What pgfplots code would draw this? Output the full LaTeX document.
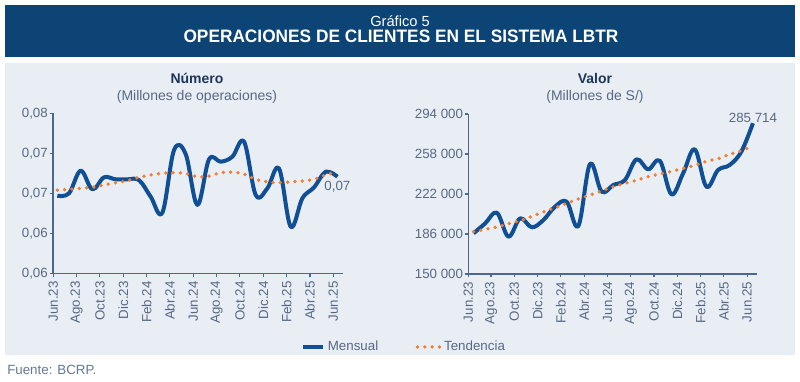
\documentclass[border=0pt]{standalone}
\usepackage{pgfplots}
\pgfplotsset{compat=1.18}
\usepackage{fontspec}
\setmainfont{Liberation Sans}
\newfontfamily\titlefont[FakeStretch=0.96]{Liberation Sans}
\definecolor{hdr}{RGB}{12,68,117}
\definecolor{panel}{RGB}{233,238,245}
\definecolor{mens}{RGB}{17,79,149}
\definecolor{trend}{RGB}{243,125,48}
\definecolor{axisc}{RGB}{74,104,145}
\definecolor{ticktxt}{RGB}{88,104,132}
\definecolor{ttl}{RGB}{30,52,90}
\definecolor{src}{RGB}{100,120,150}
\pgfplotsset{
  panelaxis/.style={
    scale only axis, anchor=south west, clip=false,
    enlargelimits=false, scaled y ticks=false, scaled x ticks=false,
    axis x line*=bottom, axis y line*=left,
    tick align=outside, major tick length=2.5pt,
    axis line style={draw=axisc, line width=0.8pt},
    every tick/.style={draw=axisc, line width=0.8pt},
    ticklabel style={font=\fontsize{10}{12}\selectfont, text=ticktxt},
    x tick label style={rotate=90, anchor=east},
    y tick label style={inner xsep=1.2pt},
    xticklabels={Jun.23,Ago.23,Oct.23,Dic.23,Feb.24,Abr.24,Jun.24,Ago.24,Oct.24,Dic.24,Feb.25,Abr.25,Jun.25},
  },
  mensstyle/.style={draw=mens, line width=3pt, smooth, tension=0.6, line join=round},
  trendstyle/.style={draw=trend, line width=2.8pt, line cap=round, dash pattern=on 0pt off 5.5pt, smooth, tension=0.6},
}
\begin{document}
\begin{tikzpicture}
\useasboundingbox (0pt,0pt) rectangle (600pt,286.5pt);
\begin{scope}[x=0.75pt,y=0.75pt]
  \fill[white] (0,0) rectangle (800,382);
  \fill[hdr] (5,325) rectangle (795,377);
  \node[anchor=base, text=white, font=\fontsize{11}{12}\selectfont] at (400,355.3) {Gráfico 5};
  \node[anchor=base, text=white, font=\titlefont\bfseries\fontsize{13.5}{15}\selectfont] at (401,339.3) {OPERACIONES DE CLIENTES EN EL SISTEMA LBTR};
  \fill[panel] (5,27) rectangle (795,319);
  \node[anchor=base, text=ttl, font=\bfseries\fontsize{10.5}{12}\selectfont] at (197,298.7) {Número};
  \node[anchor=base, text=ticktxt, font=\fontsize{10.5}{12}\selectfont] at (197,281) {(Millones de operaciones)};
  \node[anchor=base, text=ttl, font=\bfseries\fontsize{10.5}{12}\selectfont] at (595,298.7) {Valor};
  \node[anchor=base, text=ticktxt, font=\fontsize{10.5}{12}\selectfont] at (595,281) {(Millones de S/)};
  \node[anchor=base west, inner sep=0pt, text=src, font=\fontsize{10}{12}\selectfont] at (7,7) {Fuente: BCRP.};
\end{scope}

\begin{axis}[panelaxis,
  at={(39.75pt,81.5pt)}, width=217.5pt, height=120pt,
  xmin=-0.37, xmax=24.48, ymin=0.0575, ymax=0.0775,
  xtick={-0.35,1.65,3.65,5.65,7.65,9.65,11.65,13.65,15.65,17.65,19.65,21.65,23.65},
  ytick={0.0575,0.0625,0.0675,0.0725,0.0775},
  yticklabels={{0,06},{0,06},{0,07},{0,07},{0,08}},
  legend cell align=left,
  legend style={at={(0.855,-0.46)}, anchor=west, draw=none, fill=none, inner sep=0pt,
    legend columns=2, font=\fontsize{10}{12}\selectfont, text=ticktxt,
    nodes={inner xsep=2pt},
    /tikz/every even column/.append style={column sep=26pt}},
]
\addplot[mensstyle, legend image code/.code={\draw[mens, line width=3pt] (0pt,0pt) -- (15pt,0pt);}] coordinates {
(0,0.06720) (1,0.06750) (2,0.07033) (3,0.06800) (4,0.06950) (5,0.06925) (6,0.06925)
(7,0.06915) (8,0.06708) (9,0.06508) (10,0.07290) (11,0.07240) (12,0.06605) (13,0.07175)
(14,0.07145) (15,0.07208) (16,0.07395) (17,0.06730) (18,0.06813) (19,0.07060) (20,0.06333)
(21,0.06688) (22,0.06825) (23,0.07020) (24,0.06958)};
\addlegendentry{Mensual}
\addplot[trendstyle, legend image code/.code={\draw[trend, line width=2.8pt, line cap=round, dash pattern=on 0pt off 5.5pt] (0pt,0pt) -- (16.6pt,0pt);}] coordinates {
(0,0.06790) (1,0.06800) (2,0.06813) (3,0.06825) (4,0.06855) (5,0.06883) (6,0.06908)
(7,0.06950) (8,0.06980) (9,0.07000) (10,0.07008) (11,0.07000) (12,0.06958) (13,0.06965)
(14,0.07008) (15,0.07015) (16,0.06990) (17,0.06925) (18,0.06895) (19,0.06883) (20,0.06895)
(21,0.06905) (22,0.06925) (23,0.06980) (24,0.07020)};
\addlegendentry{Tendencia}
\node[anchor=north, inner sep=0pt, text=ticktxt, font=\fontsize{10}{12}\selectfont, yshift=-3.2pt] at (axis cs:24,0.06958) {0,07};
\end{axis}

\begin{axis}[panelaxis,
  at={(351.2pt,81pt)}, width=216.75pt, height=120pt,
  xmin=-0.455, xmax=24.37, ymin=150000, ymax=294000,
  xtick={-0.45,1.5,3.5,5.5,7.5,9.5,11.5,13.5,15.5,17.5,19.5,21.5,23.5},
  ytick={150000,186000,222000,258000,294000},
  yticklabels={150 000,186 000,222 000,258 000,294 000},
]
\addplot[mensstyle] coordinates {
(0,186600) (1,195600) (2,205200) (3,183600) (4,200100) (5,192000) (6,198600)
(7,210600) (8,215100) (9,193200) (10,249000) (11,224100) (12,230100) (13,234600)
(14,253200) (15,244200) (16,252000) (17,221700) (18,240600) (19,262200) (20,228600)
(21,243600) (22,248100) (23,260100) (24,285714)};
\addplot[trendstyle] coordinates {
(0,188100) (1,190200) (2,192300) (3,195300) (4,198000) (5,201900) (6,205800)
(7,209700) (8,213600) (9,217500) (10,221100) (11,224700) (12,228600) (13,231600)
(14,234300) (15,237600) (16,240000) (17,242400) (18,245100) (19,247800) (20,251400)
(21,253800) (22,257700) (23,261000) (24,265500)};
\node[anchor=base, inner sep=0pt, text=ticktxt, font=\fontsize{10}{12}\selectfont, yshift=0.5pt] at (axis cs:24,285714) {285 714};
\end{axis}
\end{tikzpicture}
\end{document}
